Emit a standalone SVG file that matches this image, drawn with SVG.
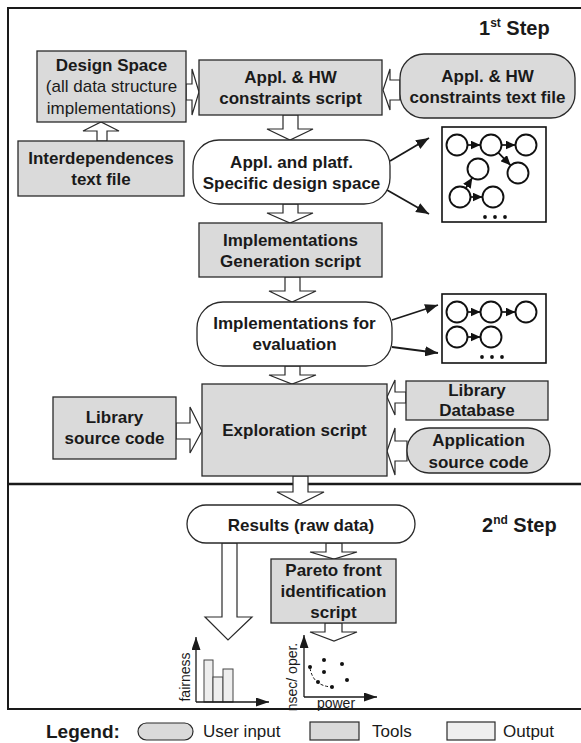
<svg xmlns="http://www.w3.org/2000/svg" width="581" height="743" viewBox="0 0 581 743">
  <style>
    text { font-family: "Liberation Sans", Arial, sans-serif; fill: #1a1a1a; }
    .lbl { font-size: 17px; font-weight: bold; text-anchor: middle; }
    .reg { font-size: 17px; font-weight: normal; text-anchor: middle; }
    .tool { fill: #dadada; stroke: #2a2a2a; stroke-width: 1.3; }
    .input { fill: #dadada; stroke: #2a2a2a; stroke-width: 1.3; }
    .out { fill: #ffffff; stroke: #2a2a2a; stroke-width: 1.3; }
    .blk { fill: #ffffff; stroke: #2a2a2a; stroke-width: 1.2; stroke-linejoin: miter; }
    .thin { stroke: #1a1a1a; stroke-width: 1.8; fill: none; }
    .node { fill: none; stroke: #111; stroke-width: 1.9; }
    .gl { stroke: #111; stroke-width: 1.7; fill: none; }
    .dot { fill: #111; }
    .axis { stroke: #1a1a1a; stroke-width: 1.3; fill: none; }
    .title { font-size: 20px; font-weight: bold; }
    .leg { font-size: 17px; }
    .ax { font-size: 14px; }
  </style>
  <defs>
    <marker id="head" markerUnits="userSpaceOnUse" markerWidth="13" markerHeight="10" refX="13" refY="5" orient="auto">
      <path d="M0,0 L13,5 L0,10 z" fill="#1a1a1a"/>
    </marker>
    <marker id="small" markerUnits="userSpaceOnUse" markerWidth="10" markerHeight="9" refX="10" refY="4.5" orient="auto">
      <path d="M0,0 L10,4.5 L0,9 z" fill="#111"/>
    </marker>
    <marker id="axhead" markerUnits="userSpaceOnUse" markerWidth="13" markerHeight="9" refX="13" refY="4.5" orient="auto">
      <path d="M0,0 L13,4.5 L0,9 z" fill="#1a1a1a"/>
    </marker>
  </defs>

  <rect width="581" height="743" fill="#ffffff"/>

  <!-- frame and step divider -->
  <g id="frame">
    <rect x="8" y="8" width="577" height="701" fill="none" stroke="#1a1a1a" stroke-width="2"/>
    <line x1="8" y1="484" x2="581" y2="484" stroke="#1a1a1a" stroke-width="2.6"/>
    <text class="title" x="479" y="35">1<tspan font-size="12" dy="-8">st</tspan><tspan dy="8"> Step</tspan></text>
    <text class="title" x="482" y="532">2<tspan font-size="12" dy="-8">nd</tspan><tspan dy="8"> Step</tspan></text>
  </g>

  <!-- connectors -->
  <g id="connectors">
    <!-- Interdependences -> Design Space -->
    <polygon class="blk" points="97,141 97,131 83,131 101,122 119,131 107,131 107,141"/>
    <!-- Design Space -> constraints script -->
    <polygon class="blk" points="186,84 192,84 192,69 199,92 192,115 192,100 186,100"/>
    <!-- constraints text file -> constraints script -->
    <polygon class="blk" points="400,80 390,80 390,69 383,90 390,110 390,100 400,100"/>
    <!-- constraints script -> specific design space -->
    <polygon class="blk" points="283,115 283,129 267,129 290,140 313,129 298,129 298,115"/>
    <!-- specific design space -> generation script -->
    <polygon class="blk" points="283,204 283,213 267,213 290,223 313,213 298,213 298,204"/>
    <!-- generation script -> implementations for evaluation -->
    <polygon class="blk" points="285,277 285,291 269,291 292,302 316,291 300,291 300,277"/>
    <!-- implementations for evaluation -> exploration -->
    <polygon class="blk" points="285,366 285,375 269,375 292,384 316,375 300,375 300,366"/>
    <!-- library source code -> exploration -->
    <polygon class="blk" points="176,423 190,423 190,407 202,431 190,453 190,439 176,439"/>
    <!-- library database -> exploration -->
    <polygon class="blk" points="406,392 395,392 395,380 387,397 395,415 395,403 406,403"/>
    <!-- application source code -> exploration -->
    <polygon class="blk" points="407,441 395,441 395,428 387,451 395,475 395,461 407,461"/>
    <!-- exploration -> results -->
    <polygon class="blk" points="293,476 293,492 277,492 300,504 324,492 308,492 308,476"/>
    <!-- results -> pareto script -->
    <polygon class="blk" points="326,543 326,552 310,552 334,559 357,552 342,552 342,543"/>
    <!-- results -> bar chart -->
    <polygon class="blk" points="222,543 222,617 205,617 228,640 252,617 237,617 237,543"/>
    <!-- pareto script -> scatter plot -->
    <polygon class="blk" points="325,623 325,632 310,632 334,641 357,632 342,632 342,623"/>

    <!-- thin arrows to example graphs -->
    <line class="thin" x1="390" y1="161" x2="429" y2="138" marker-end="url(#head)"/>
    <line class="thin" x1="387" y1="190" x2="429" y2="214" marker-end="url(#head)"/>
    <line class="thin" x1="392" y1="320" x2="438" y2="305" marker-end="url(#head)"/>
    <line class="thin" x1="392" y1="347" x2="438" y2="353" marker-end="url(#head)"/>
  </g>

  <!-- nodes -->
  <g id="design-space">
    <rect class="tool" x="37" y="51" width="149" height="71"/>
    <text class="lbl" x="111.5" y="71">Design Space</text>
    <text class="reg" x="111.5" y="92">(all data structure</text>
    <text class="reg" x="111.5" y="114">implementations)</text>
  </g>

  <g id="interdependences">
    <rect class="tool" x="18" y="141" width="166" height="55"/>
    <text class="lbl" x="101" y="164">Interdependences</text>
    <text class="lbl" x="101" y="185">text file</text>
  </g>

  <g id="constraints-script">
    <rect class="tool" x="199" y="60" width="183" height="55"/>
    <text class="lbl" x="290.5" y="83">Appl. &amp; HW</text>
    <text class="lbl" x="290.5" y="104">constraints script</text>
  </g>

  <g id="constraints-file">
    <rect class="input" x="400" y="54" width="175" height="64" rx="24" ry="24"/>
    <text class="lbl" x="487.5" y="82">Appl. &amp; HW</text>
    <text class="lbl" x="487.5" y="103">constraints text file</text>
  </g>

  <g id="specific-space">
    <rect class="out" x="193" y="140" width="197" height="64" rx="26" ry="26"/>
    <text class="lbl" x="291.5" y="168">Appl. and platf.</text>
    <text class="lbl" x="291.5" y="189">Specific design space</text>
  </g>

  <g id="graph-example-1">
    <rect x="442" y="127" width="104" height="95" fill="#fff" stroke="#111" stroke-width="1.6"/>
    <circle class="node" cx="457" cy="145" r="10.5"/>
    <circle class="node" cx="491" cy="145" r="10.5"/>
    <circle class="node" cx="526" cy="145" r="10.5"/>
    <circle class="node" cx="478" cy="169" r="10.5"/>
    <circle class="node" cx="518" cy="173" r="10.5"/>
    <circle class="node" cx="460" cy="197" r="10.5"/>
    <circle class="node" cx="493" cy="197" r="10.5"/>
    <line class="gl" x1="467.5" y1="145" x2="480.5" y2="145" marker-end="url(#small)"/>
    <line class="gl" x1="501.5" y1="145" x2="515.5" y2="145" marker-end="url(#small)"/>
    <line class="gl" x1="498.3" y1="152.6" x2="510.7" y2="165.4" marker-end="url(#small)"/>
    <line class="gl" x1="465.7" y1="188.2" x2="472.3" y2="177.8" marker-end="url(#small)"/>
    <line class="gl" x1="470.5" y1="197" x2="482.5" y2="197" marker-end="url(#small)"/>
    <circle class="dot" cx="485" cy="217" r="1.9"/>
    <circle class="dot" cx="495" cy="217" r="1.9"/>
    <circle class="dot" cx="505" cy="217" r="1.9"/>
  </g>

  <g id="generation-script">
    <rect class="tool" x="199" y="223" width="183" height="54"/>
    <text class="lbl" x="290.5" y="246">Implementations</text>
    <text class="lbl" x="290.5" y="267">Generation script</text>
  </g>

  <g id="impl-evaluation">
    <rect class="out" x="197" y="302" width="195" height="64" rx="26" ry="26"/>
    <text class="lbl" x="294.5" y="329">Implementations for</text>
    <text class="lbl" x="294.5" y="350">evaluation</text>
  </g>

  <g id="graph-example-2">
    <rect x="442" y="294" width="104" height="69" fill="#fff" stroke="#111" stroke-width="1.6"/>
    <circle class="node" cx="457" cy="312" r="10.5"/>
    <circle class="node" cx="491" cy="312" r="10.5"/>
    <circle class="node" cx="526" cy="312" r="10.5"/>
    <circle class="node" cx="457" cy="337" r="10.5"/>
    <circle class="node" cx="491" cy="337" r="10.5"/>
    <line class="gl" x1="467.5" y1="312" x2="480.5" y2="312" marker-end="url(#small)"/>
    <line class="gl" x1="501.5" y1="312" x2="515.5" y2="312" marker-end="url(#small)"/>
    <line class="gl" x1="467.5" y1="337" x2="480.5" y2="337" marker-end="url(#small)"/>
    <circle class="dot" cx="482" cy="357" r="1.9"/>
    <circle class="dot" cx="492" cy="357" r="1.9"/>
    <circle class="dot" cx="502" cy="357" r="1.9"/>
  </g>

  <g id="library-source">
    <rect class="tool" x="53" y="397" width="123" height="62"/>
    <text class="lbl" x="114.5" y="423">Library</text>
    <text class="lbl" x="114.5" y="444">source code</text>
  </g>

  <g id="exploration-script">
    <rect class="tool" x="202" y="384" width="185" height="92"/>
    <text class="lbl" x="294.5" y="436">Exploration script</text>
  </g>

  <g id="library-database">
    <rect class="tool" x="406" y="381" width="142" height="39"/>
    <text class="lbl" x="477" y="396">Library</text>
    <text class="lbl" x="477" y="416">Database</text>
  </g>

  <g id="application-source">
    <rect class="input" x="407" y="428" width="143" height="45" rx="22" ry="22"/>
    <text class="lbl" x="478.5" y="446">Application</text>
    <text class="lbl" x="478.5" y="468">source code</text>
  </g>

  <g id="results">
    <rect class="out" x="187" y="505" width="228" height="38" rx="19" ry="19"/>
    <text class="lbl" x="301" y="531">Results (raw data)</text>
  </g>

  <g id="pareto-script">
    <rect class="tool" x="271" y="559" width="125" height="64"/>
    <text class="lbl" x="333.5" y="576">Pareto front</text>
    <text class="lbl" x="333.5" y="597">identification</text>
    <text class="lbl" x="333.5" y="618">script</text>
  </g>

  <g id="bar-chart">
    <rect x="204" y="660" width="9" height="42" fill="#eeeeee" stroke="#444" stroke-width="1"/>
    <rect x="213" y="677" width="10" height="25" fill="#eeeeee" stroke="#444" stroke-width="1"/>
    <rect x="223" y="669" width="10" height="33" fill="#eeeeee" stroke="#444" stroke-width="1"/>
    <line class="axis" x1="196" y1="702" x2="196" y2="637" marker-end="url(#axhead)"/>
    <line class="axis" x1="196" y1="702" x2="269" y2="702" marker-end="url(#axhead)"/>
    <text class="ax" transform="translate(190,677) rotate(-90)" text-anchor="middle">fairness</text>
  </g>

  <g id="scatter-plot">
    <line class="axis" x1="304" y1="697" x2="304" y2="635" marker-end="url(#axhead)"/>
    <line class="axis" x1="304" y1="697" x2="377" y2="697" marker-end="url(#axhead)"/>
    <path d="M310,668 Q313,686 332,687" fill="none" stroke="#111" stroke-width="1" stroke-dasharray="3,2"/>
    <circle class="dot" cx="310" cy="667" r="2"/>
    <circle class="dot" cx="324" cy="660" r="2"/>
    <circle class="dot" cx="342" cy="664" r="2"/>
    <circle class="dot" cx="324" cy="672" r="2"/>
    <circle class="dot" cx="347" cy="680" r="2"/>
    <circle class="dot" cx="318" cy="682" r="2"/>
    <circle class="dot" cx="332" cy="687" r="2"/>
    <text class="ax" transform="translate(297,677) rotate(-90)" text-anchor="middle" font-size="13">nsec/ oper.</text>
    <text class="ax" x="336" y="708" text-anchor="middle" font-size="13">power</text>
  </g>

  <!-- legend -->
  <g id="legend">
    <text x="46" y="738" font-size="19" font-weight="bold">Legend:</text>
    <rect x="138" y="723" width="55" height="17" rx="8.5" ry="8.5" fill="#dadada" stroke="#2a2a2a" stroke-width="1.2"/>
    <text class="leg" x="203" y="737">User input</text>
    <rect x="310" y="722" width="49" height="18" fill="#dadada" stroke="#2a2a2a" stroke-width="1.2"/>
    <text class="leg" x="372" y="737">Tools</text>
    <rect x="447" y="722" width="48" height="18" fill="#efefef" stroke="#2a2a2a" stroke-width="1.2"/>
    <text class="leg" x="503" y="737">Output</text>
  </g>
</svg>
